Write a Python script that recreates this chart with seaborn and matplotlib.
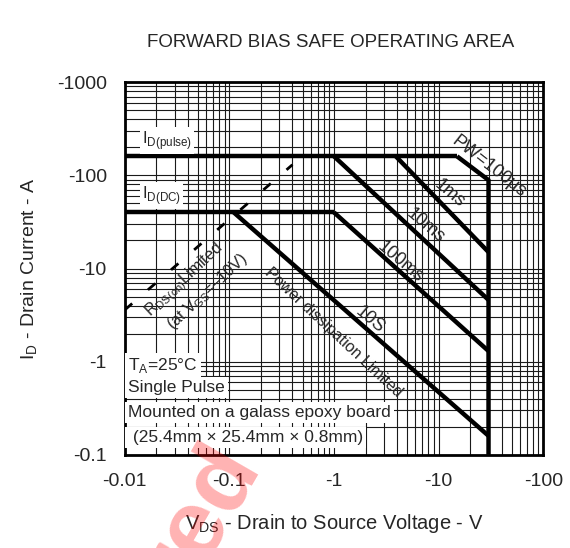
import numpy as np
import pandas as pd
import matplotlib
matplotlib.use("Agg")
import matplotlib.pyplot as plt
import matplotlib.ticker as mticker
import seaborn as sns

# SOA boundary lines (V_DS in V, I_D in A, shown as magnitudes)
pulse_v = [0.01, 15]
pulse_i = [160, 160]
pw100_v = [15, 30, 30]
pw100_i = [160, 89, 0.1]
ms1_v = [3.9, 30]
ms1_i = [160, 15]
ms10_v = [1, 30]
ms10_i = [160, 4.6]
dc_v = [0.01, 1]
dc_i = [40, 40]
ms100_v = [1, 30]
ms100_i = [40, 1.3]
s10_v = [0.11, 30]
s10_i = [40, 0.16]
rds_v = [0.01, 0.4]
rds_i = [3.6, 130]

x_ticks = [0.01, 0.1, 1, 10, 100]
x_labels = ["-0.01", "-0.1", "-1", "-10", "-100"]
y_ticks = [0.1, 1, 10, 100, 1000]
y_labels = ["-0.1", "-1", "-10", "-100", "-1000"]

sns.set_style("white")
plt.rcParams['font.family'] = ['Liberation Sans', 'DejaVu Sans']
plt.rcParams['mathtext.fontset'] = 'custom'
plt.rcParams['mathtext.rm'] = 'Liberation Sans'

fig = plt.figure(figsize=(5.7, 5.48), dpi=100)
ax = fig.add_axes([0.219, 0.170, 0.734, 0.680])
ax.set_xscale("log")
ax.set_yscale("log")
ax.set_xlim(0.01, 100)
ax.set_ylim(0.1, 1000)

ax.grid(True, which="both", color="#1a1a1a", lw=0.8)
ax.set_axisbelow(True)

solid = [(pulse_v, pulse_i), (pw100_v, pw100_i), (ms1_v, ms1_i), (ms10_v, ms10_i),
         (dc_v, dc_i), (ms100_v, ms100_i), (s10_v, s10_i)]
for v, i in solid:
    sns.lineplot(x=v, y=i, ax=ax, color="black", lw=3.2, sort=False, estimator=None,
                 solid_capstyle="butt", zorder=5)

sns.lineplot(x=rds_v, y=rds_i, ax=ax, color="black", lw=2.0, sort=False, estimator=None,
             zorder=5, dashes=False)
ax.lines[-1].set_linestyle((0, (3.5, 7.5)))

ax.set_xticks(x_ticks)
ax.set_xticklabels(x_labels)
ax.set_yticks(y_ticks)
ax.set_yticklabels(y_labels)
ax.tick_params(which="major", direction="in", length=4, width=0.8, labelsize=14)
ax.tick_params(axis="x", which="major", pad=13)
ax.tick_params(axis="y", which="major", pad=13)
ax.tick_params(which="minor", direction="in", length=3, width=0.6)
ax.xaxis.set_minor_formatter(mticker.NullFormatter())
ax.yaxis.set_minor_formatter(mticker.NullFormatter())
for s in ax.spines.values():
    s.set_linewidth(2)
    s.set_color("black")

ax.set_xlabel(r"V$_{\mathrm{DS}}$ - Drain to Source Voltage - V", fontsize=14.5, labelpad=16)
ax.set_ylabel(r"I$_{\mathrm{D}}$ - Drain Current - A", fontsize=14, labelpad=12)
fig.text(0.58, 0.923, "FORWARD BIAS SAFE OPERATING AREA", ha="center", va="center", fontsize=13.5)

box = dict(facecolor="white", edgecolor="none", pad=1.5)
ax.text(0.0146, 239, r"I$_{\mathrm{D(pulse)}}$", fontsize=12, va="center", bbox=box, zorder=6)
ax.text(0.0146, 61, r"I$_{\mathrm{D(DC)}}$", fontsize=12, va="center", bbox=box, zorder=6)

kw = dict(ha="center", va="center", rotation_mode="anchor", zorder=6)
ax.text(30, 125, "PW=100μs", fontsize=13, rotation=-38, **kw)
ax.text(12.6, 64.6, "1ms", fontsize=13, rotation=-40, **kw)
ax.text(7.4, 28.6, "10ms", fontsize=13, rotation=-40, **kw)
ax.text(4.28, 11.7, "100ms", fontsize=13, rotation=-40, **kw)
ax.text(2.2, 2.8, "10S", fontsize=13, rotation=-40, **kw)
ax.text(0.98, 2.08, "Power dissipation Limited", fontsize=11.5, rotation=-43, **kw)
ax.text(0.0375, 7.5, r"R$_{\mathrm{DS(on)}}$Limited", fontsize=11.5, rotation=43, **kw)
ax.text(0.0622, 5.6, r"(at V$_{\mathrm{GS}}$=–10V)", fontsize=11.5, rotation=43, **kw)

notes = [r"T$_{\mathrm{A}}$=25°C", "Single Pulse", "Mounted on a galass epoxy board",
         " (25.4mm × 25.4mm × 0.8mm)"]
note_y = [0.241, 0.180, 0.113, 0.046]
for t, yy in zip(notes, note_y):
    ax.text(0.008, yy, t, transform=ax.transAxes, fontsize=12.5, va="center",
            bbox=dict(facecolor="white", edgecolor="none", pad=2), zorder=6)

fig.text(0.35, 0.06, "red", color="red", alpha=0.3, fontsize=70, fontweight="bold",
         rotation=60, ha="center", va="center")

fig.savefig("out.png", dpi=100)
